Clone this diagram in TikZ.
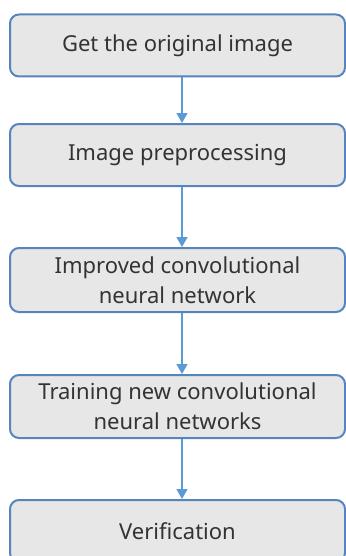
\documentclass[tikz,border=0pt]{standalone}
\usepackage{fontspec}
\setmainfont{Noto Sans}
\usetikzlibrary{positioning,arrows.meta}
\definecolor{StepEdge}{HTML}{5585BE}
\definecolor{StepFill}{HTML}{E7E7E7}
\definecolor{FlowLine}{HTML}{5B9BD5}
\definecolor{StepText}{HTML}{333333}

\begin{document}
\begin{tikzpicture}[
  x=0.5pt,y=-0.5pt,
  font=\fontsize{11}{15}\selectfont,
  stepbox/.style={draw=StepEdge,line width=1pt,fill=StepFill,
                  rounded corners=4.5pt,align=center,text=StepText,
                  minimum width=167.5pt,minimum height=31pt,inner sep=0pt},
  ar/.style={-{Triangle[length=5pt,width=5.5pt]},draw=FlowLine,line width=0.8pt},
]
\useasboundingbox (0,0) rectangle (346,556);

\node[stepbox] (orig) at (177.5,45.5) {Get the original image};
\node[stepbox] (prep) at (177.5,155) {Image preprocessing};
\node[stepbox,minimum height=32pt] (impr) at (177.5,280) {Improved convolutional\\neural network};
\node[stepbox,minimum height=31.5pt] (train) at (177.5,406.5) {Training new convolutional\\neural networks};
\node[stepbox] (verif) at (177.5,531) {Verification};

\draw[ar] (orig.south -| 182,0) -- (prep.north -| 182,0);
\draw[ar] (prep.south -| 182,0) -- (impr.north -| 182,0);
\draw[ar] (impr.south -| 182,0) -- (train.north -| 182,0);
\draw[ar] (train.south -| 182,0) -- (verif.north -| 182,0);
\end{tikzpicture}
\end{document}
